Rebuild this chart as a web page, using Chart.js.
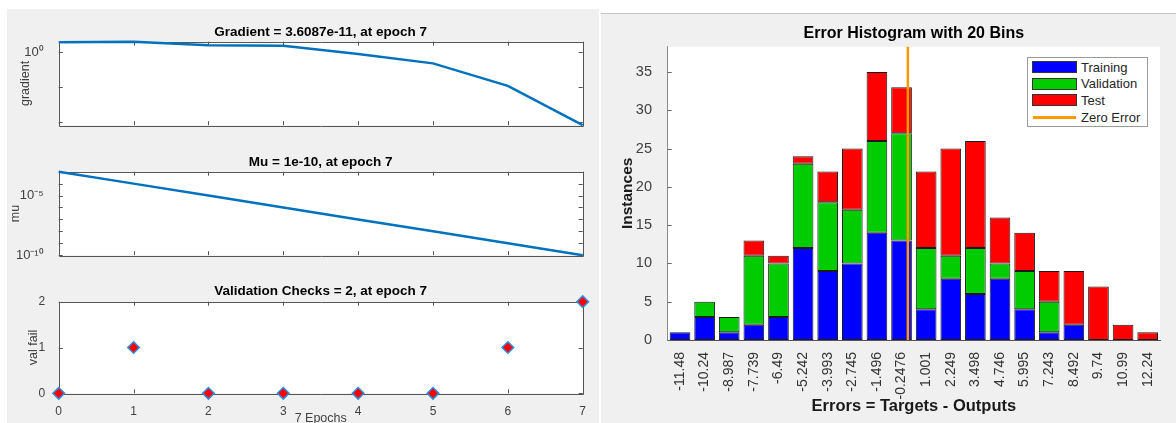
<!DOCTYPE html>
<html lang="en">

<head>
    <meta charset="UTF-8">
    <title>Training state and error histogram</title>
    <script src="https://cdn.jsdelivr.net/npm/chart.js"></script>
    <style>
        body {
            margin: 0;
            width: 1176px;
            height: 423px;
            overflow: hidden;
            position: relative;
            background: #fff;
            font-family: 'Liberation Sans', Arial, sans-serif;
        }

        .panel {
            position: absolute;
            background: #f0f0f0;
        }

        #leftPanel {
            left: 7px;
            top: 9px;
            width: 592px;
            height: 414px;
        }

        #rightPanel {
            left: 601px;
            top: 13px;
            width: 575px;
            height: 410px;
            border-top: 1px solid #c4c4c4;
        }

        canvas {
            position: absolute;
        }

        #legend {
            position: absolute;
            left: 1027px;
            top: 57px;
            width: 121px;
            height: 70px;
            box-sizing: border-box;
            padding-top: 1px;
            background: #fff;
            border: 1px solid #9a9a9a;
        }

        #legend .row {
            height: 16.6px;
            display: flex;
            align-items: center;
            font-size: 13px;
            color: #262626;
        }

        #legend .swatch {
            width: 43px;
            height: 10px;
            margin: 0 4px 0 4px;
            border: 1px solid #333;
        }

        #legend .swatch.line {
            height: 3px;
            border: none;
            margin-right: 5px;
            margin-left: 5px;
        }
    </style>
</head>

<body>
    <div class="panel" id="leftPanel"></div>
    <div class="panel" id="rightPanel"></div>

    <canvas id="gradChart" width="600" height="140" style="left:0;top:0"></canvas>
    <canvas id="muChart" width="600" height="130" style="left:0;top:140px"></canvas>
    <canvas id="valChart" width="600" height="160" style="left:0;top:270px"></canvas>
    <canvas id="histChart" width="575" height="409" style="left:601px;top:14px"></canvas>
    <div id="legend"></div>

    <script>
        // training record (left)
        const epochs = [0, 1, 2, 3, 4, 5, 6, 7];
        const gradient = [26.2, 31.3, 9.5, 8.0, 0.55, 0.025, 1.5e-5, 3.6087e-11];
        const mu = [1e-3, 1e-4, 1e-5, 1e-6, 1e-7, 1e-8, 1e-9, 1e-10];
        const valFail = [0, 1, 0, 0, 0, 0, 1, 2];
        const gradTicks = [1e-10, 1e-5, 1];
        const gradLabeled = [1];
        const muTicks = [1e-10, 1e-9, 1e-8, 1e-7, 1e-6, 1e-5, 1e-4, 1e-3];
        const muLabeled = [1e-5, 1e-10];

        // error histogram (right)
        const binCenters = ['-11.48', '-10.24', '-8.987', '-7.739', '-6.49', '-5.242', '-3.993', '-2.745', '-1.496', '-0.2476',
            '1.001', '2.249', '3.498', '4.746', '5.995', '7.243', '8.492', '9.74', '10.99', '12.24'];
        const training = [1, 3, 1, 2, 3, 12, 9, 10, 14, 13, 4, 8, 6, 8, 4, 1, 2, 0, 0, 0];
        const validation = [0, 2, 2, 9, 7, 11, 9, 7, 12, 14, 8, 3, 6, 2, 5, 4, 0, 0, 0, 0];
        const test = [0, 0, 0, 2, 1, 1, 4, 8, 9, 6, 10, 14, 14, 6, 5, 4, 7, 7, 2, 1];
        const zeroError = 0;
        const countMax = 38.3;

        const FONT = "'Liberation Sans', Arial, Helvetica, sans-serif";
        Chart.defaults.font.family = FONT;
        Chart.defaults.animation = false;

        const SUP = { '0': '⁰', '1': '¹', '2': '²', '3': '³', '4': '⁴', '5': '⁵', '6': '⁶', '7': '⁷', '8': '⁸', '9': '⁹', '-': '⁻' };
        function powLabel(v) {
            const e = String(Math.round(Math.log10(v)));
            return '10' + e.split('').map(c => SUP[c]).join('');
        }
        function isIn(list, v) {
            return list.some(x => Math.abs(Math.log10(x) - Math.log10(v)) < 1e-6);
        }

        // white axes area, MATLAB style box and inward ticks
        const matlabAxes = {
            id: 'matlabAxes',
            beforeDraw(chart) {
                const { ctx, chartArea: a } = chart;
                ctx.save();
                ctx.fillStyle = '#fff';
                ctx.fillRect(a.left, a.top, a.right - a.left, a.bottom - a.top);
                ctx.restore();
            },
            beforeDatasetsDraw(chart, args, opts) {
                const { ctx, chartArea: a, scales } = chart;
                const L = opts.tickLen || 4;
                ctx.save();
                ctx.strokeStyle = opts.color || '#555';
                ctx.lineWidth = 1;
                ctx.beginPath();
                if (opts.box) ctx.rect(Math.round(a.left) + 0.5, Math.round(a.top) + 0.5, Math.round(a.right - a.left), Math.round(a.bottom - a.top));
                if (opts.xTicks) scales.x.ticks.forEach(t => {
                    const px = Math.round(scales.x.getPixelForValue(t.value)) + 0.5;
                    ctx.moveTo(px, a.bottom); ctx.lineTo(px, a.bottom - L);
                    if (opts.box) { ctx.moveTo(px, a.top); ctx.lineTo(px, a.top + L); }
                });
                if (opts.yTicks) scales.y.ticks.forEach(t => {
                    const py = Math.round(scales.y.getPixelForValue(t.value)) + 0.5;
                    ctx.moveTo(a.left, py); ctx.lineTo(a.left + L, py);
                    if (opts.box) { ctx.moveTo(a.right, py); ctx.lineTo(a.right - L, py); }
                });
                ctx.stroke();
                ctx.restore();
            }
        };

        function epochChart(id, o) {
            return new Chart(document.getElementById(id), {
                type: 'line',
                data: {
                    datasets: [o.dataset]
                },
                options: {
                    responsive: false,
                    events: [],
                    layout: { padding: { left: 0, right: 17.3, top: 0, bottom: 0 } },
                    plugins: {
                        legend: { display: false },
                        tooltip: { enabled: false },
                        title: {
                            display: true, text: o.title, color: '#000', fullSize: false,
                            font: { size: 13.5, weight: 'bold' }, padding: o.titlePad
                        },
                        matlabAxes: { box: true, xTicks: true, yTicks: true, color: '#555', tickLen: 4 }
                    },
                    scales: {
                        x: {
                            type: 'linear', min: 0, max: 7,
                            grid: { display: false }, border: { display: false },
                            ticks: { stepSize: 1, autoSkip: false, display: o.showX, font: { size: 12 }, color: '#404040', padding: 2.8 },
                            title: { display: o.showX, text: '7 Epochs', font: { size: 12.5 }, color: '#404040', padding: { top: 0, bottom: 4 } },
                            afterFit: s => { s.height = o.xHeight; }
                        },
                        y: {
                            type: o.yType, min: o.yMin, max: o.yMax,
                            grid: { display: false }, border: { display: false },
                            ticks: { autoSkip: false, font: { size: o.tickSize }, color: '#404040', padding: o.tickPad, callback: o.yLabel },
                            afterBuildTicks: s => { s.ticks = o.yTicks.map(v => ({ value: v })); },
                            title: { display: true, text: o.yTitle, font: { size: 12.5 }, color: '#404040', padding: { top: o.yTitlePad, bottom: 0 } },
                            afterFit: s => { s.width = 58.7; }
                        }
                    }
                },
                plugins: [matlabAxes]
            });
        }

        const lineStyle = { borderColor: '#0072BD', borderWidth: 2.5, pointRadius: 0, tension: 0, clip: false };

        epochChart('gradChart', {
            title: 'Gradient = 3.6087e-11, at epoch 7',
            titlePad: { top: 23.9, bottom: 1.6 },
            dataset: Object.assign({ data: epochs.map((e, i) => ({ x: e, y: gradient[i] })) }, lineStyle),
            yType: 'logarithmic', yMin: gradient[7], yMax: gradient[1],
            yTicks: gradTicks, yLabel: v => isIn(gradLabeled, v) ? powLabel(v) : '',
            yTitle: 'gradient', yTitlePad: 18.5, tickPad: 7, tickSize: 13, showX: false, xHeight: 5.7
        });

        epochChart('muChart', {
            title: 'Mu = 1e-10, at epoch 7',
            titlePad: { top: 14.4, bottom: 1.1 },
            dataset: Object.assign({ data: epochs.map((e, i) => ({ x: e, y: mu[i] })) }, lineStyle),
            yType: 'logarithmic', yMin: 1e-10, yMax: 1e-3,
            yTicks: muTicks, yLabel: v => isIn(muLabeled, v) ? powLabel(v) : '',
            yTitle: 'mu', yTitlePad: 8.5, tickPad: 7, tickSize: 13, showX: false, xHeight: 6.7
        });

        epochChart('valChart', {
            title: 'Validation Checks = 2, at epoch 7',
            titlePad: { top: 12.9, bottom: 2.6 },
            dataset: {
                data: epochs.map((e, i) => ({ x: e, y: valFail[i] })),
                showLine: false, pointStyle: 'rectRot', pointRadius: 5.8,
                backgroundColor: '#ff0000', borderColor: '#2b8fe0', borderWidth: 1.5, clip: false
            },
            yType: 'linear', yMin: 0, yMax: 2,
            yTicks: [0, 1, 2], yLabel: v => String(v),
            yTitle: 'val fail', yTitlePad: 25.8, tickPad: 5.5, tickSize: 12, showX: true, xHeight: 36.7
        });

        const barStyle = {
            borderColor: '#1a1a1a', borderWidth: 1, borderSkipped: false,
            barPercentage: 0.84, categoryPercentage: 1, grouped: false, stack: 'bins'
        };
        const firstBin = parseFloat(binCenters[0]);
        const lastBin = parseFloat(binCenters[binCenters.length - 1]);
        const binStep = (lastBin - firstBin) / (binCenters.length - 1);

        const histChart = new Chart(document.getElementById('histChart'), {
            type: 'bar',
            data: {
                labels: binCenters,
                datasets: [
                    Object.assign({ label: 'Training', data: training, backgroundColor: '#0000ff' }, barStyle),
                    Object.assign({ label: 'Validation', data: validation, backgroundColor: '#00cc00' }, barStyle),
                    Object.assign({ label: 'Test', data: test, backgroundColor: '#ff0000' }, barStyle),
                    {
                        type: 'line', label: 'Zero Error', xAxisID: 'xz', stack: 'zero', order: -1,
                        data: [{ x: zeroError, y: 0 }, { x: zeroError, y: countMax }],
                        borderColor: '#ff9900', borderWidth: 2.5, pointRadius: 0, clip: false
                    }
                ]
            },
            options: {
                responsive: false,
                events: [],
                layout: { padding: { left: 0, right: 16, top: 0, bottom: 0 } },
                plugins: {
                    legend: { display: false },
                    tooltip: { enabled: false },
                    title: {
                        display: true, text: 'Error Histogram with 20 Bins', color: '#000', fullSize: false,
                        font: { size: 16, weight: 'bold' }, padding: { top: 10.4, bottom: 3.1 }
                    },
                    matlabAxes: { box: false, xTicks: false, yTicks: true, color: '#666', tickLen: 4 }
                },
                scales: {
                    x: {
                        stacked: true,
                        grid: { display: false }, border: { color: '#555' },
                        ticks: { autoSkip: false, minRotation: 90, maxRotation: 90, font: { size: 14 }, color: '#333', padding: 4 },
                        title: { display: true, text: 'Errors = Targets - Outputs', color: '#1a1a1a', font: { size: 16.5, weight: 'bold' }, padding: { top: 0, bottom: 7.1 } },
                        afterFit: s => { s.height = 83; }
                    },
                    xz: {
                        type: 'linear', display: false,
                        min: firstBin - binStep / 2, max: lastBin + binStep / 2
                    },
                    y: {
                        stacked: true, min: 0, max: countMax,
                        grid: { display: false }, border: { color: '#8a8a8a' },
                        ticks: { stepSize: 5, includeBounds: false, font: { size: 14.5 }, color: '#404040', padding: 7.7 },
                        title: { display: true, text: 'Instances', color: '#1a1a1a', font: { size: 15.5, weight: 'bold' }, padding: { top: 17.7, bottom: 0 } },
                        afterFit: s => { s.width = 66.7; }
                    }
                }
            },
            plugins: [matlabAxes]
        });

        // MATLAB-like legend box inside the axes
        const legendBox = document.getElementById('legend');
        histChart.data.datasets.forEach(ds => {
            const row = document.createElement('div');
            row.className = 'row';
            const sw = document.createElement('span');
            sw.className = ds.type === 'line' ? 'swatch line' : 'swatch';
            sw.style.background = ds.type === 'line' ? ds.borderColor : ds.backgroundColor;
            const txt = document.createElement('span');
            txt.textContent = ds.label;
            row.appendChild(sw);
            row.appendChild(txt);
            legendBox.appendChild(row);
        });
    </script>
</body>

</html>
